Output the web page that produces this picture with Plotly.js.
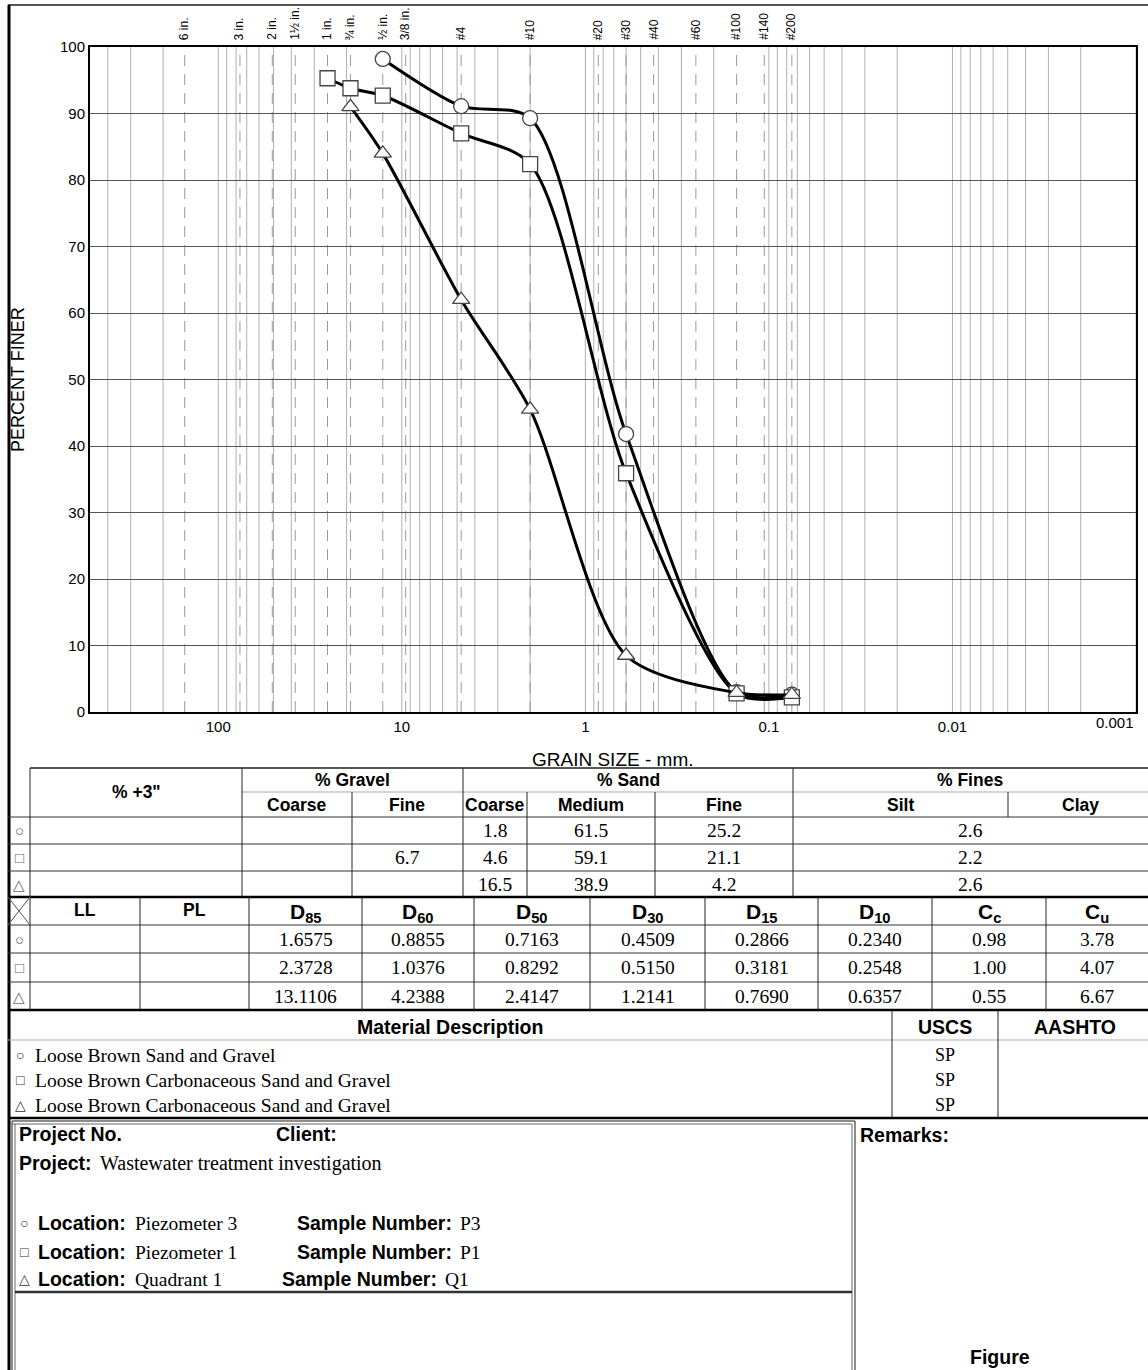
<!DOCTYPE html>
<html><head><meta charset="utf-8">
<script src="https://cdn.plot.ly/plotly-3.0.1.min.js"></script>
<style>html,body{margin:0;padding:0;background:#fff;} #chart{width:1148px;height:1370px;}</style>
</head><body><div id="chart"></div>
<script>
// ---------- DATA ----------
const sieveSizes = [152.4, 76.2, 50.8, 38.1, 25.4, 19.05, 12.7, 9.525, 4.75, 2.0, 0.85, 0.6, 0.425, 0.25, 0.15, 0.106, 0.075];
const sieveLabels = ['6 in.','3 in.','2 in.','1½ in.','1 in.','¾ in.','½ in.','3/8 in.','#4','#10','#20','#30','#40','#60','#100','#140','#200'];

const p3Size = [12.7, 4.75, 2.0, 0.6, 0.15, 0.075];
const p3Finer = [98.2, 91.1, 89.3, 41.8, 3.0, 2.6];
const p1Size = [25.4, 19.05, 12.7, 4.75, 2.0, 0.6, 0.15, 0.075];
const p1Finer = [95.3, 93.8, 92.7, 87.0, 82.4, 35.9, 2.8, 2.2];
const q1Size = [19.05, 12.7, 4.75, 2.0, 0.6, 0.15, 0.075];
const q1Finer = [91.0, 84.0, 62.0, 45.5, 8.5, 2.9, 2.6];

const xTickVals = [100, 10, 1, 0.1, 0.01];
const xTickText = ['100', '10', '1', '0.1', '0.01'];
const yTickVals = [0,10,20,30,40,50,60,70,80,90,100];

const sampleSymbols = ['○','□','△'];
const plus3in = ['','',''];
const gravelCoarse = ['','',''];
const gravelFine = ['','6.7',''];
const sandCoarse = ['1.8','4.6','16.5'];
const sandMedium = ['61.5','59.1','38.9'];
const sandFine = ['25.2','21.1','4.2'];
const finesVals = ['2.6','2.2','2.6'];
const LL = ['','',''];
const PL = ['','',''];
const D85 = ['1.6575','2.3728','13.1106'];
const D60 = ['0.8855','1.0376','4.2388'];
const D50 = ['0.7163','0.8292','2.4147'];
const D30 = ['0.4509','0.5150','1.2141'];
const D15 = ['0.2866','0.3181','0.7690'];
const D10 = ['0.2340','0.2548','0.6357'];
const Cc = ['0.98','1.00','0.55'];
const Cu = ['3.78','4.07','6.67'];
const materialDesc = ['Loose Brown Sand and Gravel','Loose Brown Carbonaceous Sand and Gravel','Loose Brown Carbonaceous Sand and Gravel'];
const uscs = ['SP','SP','SP'];
const locations = ['Piezometer 3','Piezometer 1','Quadrant 1'];
const sampleNumbers = ['P3','P1','Q1'];

// ---------- GEOMETRY ----------
const L=90, R=1136, T=47, B=712;
const ARIAL='Liberation Sans, Arial, sans-serif';
const TIMES='Liberation Serif, Times New Roman, serif';
const fx = x => (x-L)/(R-L);
const fy = y => (B-y)/(B-T);
const LMAX=Math.log10(500), LMIN=-3;
const fxd = v => (LMAX-Math.log10(v))/(LMAX-LMIN);

const shapes=[], ann=[];
function ln(x0,y0,x1,y1,color,width,dash){
  shapes.push({type:'line',xref:'paper',yref:'paper',x0:fx(x0),x1:fx(x1),y0:fy(y0),y1:fy(y1),
    line:{color:color||'#222',width:width||1,dash:dash||'solid'},layer:'above'});
}
function txt(x,y,s,o){
  if(!s) return;
  o=o||{};
  ann.push({xref:'paper',yref:'paper',x:fx(x),y:fy(y),text:s,showarrow:false,
    xanchor:o.xa||'center',yanchor:o.ya||'middle',textangle:o.angle||0,borderpad:0,
    font:{family:o.f||ARIAL,size:o.s||16,color:o.c||'#000'}});
}

// vertical grid (log cycles)
for(let n=-3;n<=2;n++){
  for(let k=1;k<=9;k++){
    const v=k*Math.pow(10,n);
    if(v<0.001||v>=500) continue;
    shapes.push({type:'line',xref:'paper',yref:'paper',x0:fxd(v),x1:fxd(v),y0:0,y1:1,
      line:{color:'#b0b0b0',width:1},layer:'below'});
  }
}
// sieve dashed lines + labels
sieveSizes.forEach((s,i)=>{
  shapes.push({type:'line',xref:'paper',yref:'paper',x0:fxd(s),x1:fxd(s),y0:0,y1:1,
    line:{color:'#9a9a9a',width:1,dash:'11px,8px'},layer:'below'});
  ann.push({xref:'paper',yref:'paper',x:fxd(s),y:fy(42),text:sieveLabels[i],showarrow:false,
    xanchor:'center',yanchor:'bottom',textangle:-90,font:{family:ARIAL,size:12,color:'#000'}});
});

// axis extras
txt(1135,722,'0.001',{xa:'right',s:15});
txt(18,380,'PERCENT FINER',{angle:-90,s:18});
txt(613,759,'GRAIN SIZE - mm.',{s:19});

// outer frame
ln(8,5,1148,5,'#555',2);
ln(9,5,9,1370,'#000',3);

const HS=17.5, TS=19.5, BS=19.5;
// ---------- TABLE 1 ----------
ln(30,768,1148,768,'#222',1.5);
ln(242,792,1148,792,'#aaa',1);
[817,844,871].forEach(y=>ln(8,y,1148,y,'#333',1));
ln(8,897,1148,897,'#000',2.5);
ln(30,768,30,897); ln(242,768,242,897); ln(352,792,352,897); ln(463,768,463,897);
ln(527,792,527,897); ln(655,792,655,897); ln(793,768,793,897); ln(1008,792,1008,817);
txt(136,792,'<b>% +3"</b>',{s:HS});
txt(352,780,'<b>% Gravel</b>',{s:HS}); txt(297,805,'<b>Coarse</b>',{s:HS}); txt(407,805,'<b>Fine</b>',{s:HS});
txt(628,780,'<b>% Sand</b>',{s:HS}); txt(495,805,'<b>Coarse</b>',{s:HS}); txt(591,805,'<b>Medium</b>',{s:HS}); txt(724,805,'<b>Fine</b>',{s:HS});
txt(970,780,'<b>% Fines</b>',{s:HS}); txt(900,805,'<b>Silt</b>',{s:HS}); txt(1080,805,'<b>Clay</b>',{s:HS});
const r1=[830,857,884];
r1.forEach((y,i)=>{
  txt(19,y,sampleSymbols[i],{s:15,c:'#666'});
  txt(136,y,plus3in[i],{f:TIMES,s:TS});
  txt(297,y,gravelCoarse[i],{f:TIMES,s:TS});
  txt(407,y,gravelFine[i],{f:TIMES,s:TS});
  txt(495,y,sandCoarse[i],{f:TIMES,s:TS});
  txt(591,y,sandMedium[i],{f:TIMES,s:TS});
  txt(724,y,sandFine[i],{f:TIMES,s:TS});
  txt(970,y,finesVals[i],{f:TIMES,s:TS});
});

// ---------- TABLE 2 ----------
[925,953,982].forEach(y=>ln(8,y,1148,y,'#333',1));
ln(8,1010,1148,1010,'#000',2.5);
const c2=[30,140,249,362,474,590,705,818,932,1046,1148];
c2.slice(0,10).forEach(x=>ln(x,897,x,1010));
ln(8,897,30,925,'#555',1); ln(8,925,30,897,'#555',1);
const hdr2=['<b>LL</b>','<b>PL</b>','<b>D<sub>85</sub></b>','<b>D<sub>60</sub></b>','<b>D<sub>50</sub></b>','<b>D<sub>30</sub></b>','<b>D<sub>15</sub></b>','<b>D<sub>10</sub></b>','<b>C<sub>c</sub></b>','<b>C<sub>u</sub></b>'];
const cols2=[LL,PL,D85,D60,D50,D30,D15,D10,Cc,Cu];
hdr2.forEach((h,j)=>txt((c2[j]+c2[j+1])/2,j<2?910:913,h,{s:j<2?HS:21}));
const r2=[939,967,996];
r2.forEach((y,i)=>{
  txt(19,y,sampleSymbols[i],{s:15,c:'#666'});
  cols2.forEach((col,j)=>txt((c2[j]+c2[j+1])/2,y,col[i],{f:TIMES,s:TS}));
});

// ---------- MATERIAL DESCRIPTION ----------
ln(8,1040,1148,1040,'#aaa',1);
ln(892,1010,892,1118); ln(998,1010,998,1118);
ln(8,1118,1148,1118,'#000',2.5);
txt(450,1027,'<b>Material Description</b>',{s:BS});
txt(945,1027,'<b>USCS</b>',{s:BS});
txt(1075,1027,'<b>AASHTO</b>',{s:BS});
const r3=[1055,1080,1105];
r3.forEach((y,i)=>{
  txt(20,y,sampleSymbols[i],{s:14,c:'#333'});
  txt(34,y,materialDesc[i],{xa:'left',f:TIMES,s:TS});
  txt(945,y,uscs[i],{f:TIMES,s:18});
});

// ---------- PROJECT BOX ----------
ln(12,1121,855,1121,'#666',1.5); ln(12,1124,852,1124,'#666',1);
ln(12,1121,12,1370,'#666',1.5); ln(15,1124,15,1370,'#666',1);
ln(855,1121,855,1370,'#666',1.5); ln(852,1124,852,1370,'#666',1);
ln(15,1292,852,1292,'#333',2.5);
txt(18,1134,'<b>Project No.</b>',{xa:'left',s:BS});
txt(275,1134,'<b>Client:</b>',{xa:'left',s:BS});
txt(18,1163,'<b>Project:</b>',{xa:'left',s:BS});
txt(99,1163,'Wastewater treatment investigation',{xa:'left',f:TIMES,s:TS+0.5});
const r4=[1223,1252,1279];
const snX=[296,296,281];
r4.forEach((y,i)=>{
  txt(24,y,sampleSymbols[i],{s:14,c:'#333'});
  txt(37,y,'<b>Location:</b>',{xa:'left',s:BS});
  txt(134,y,locations[i],{xa:'left',f:TIMES,s:TS});
  txt(snX[i],y,'<b>Sample Number:</b>',{xa:'left',s:BS});
  txt(snX[i]+163,y,sampleNumbers[i],{xa:'left',f:TIMES,s:TS});
});
txt(859,1135,'<b>Remarks:</b>',{xa:'left',s:BS});
txt(1000,1357,'<b>Figure</b>',{s:BS});

// ---------- TRACES ----------
function curve(xs,ys,sym){
  return {x:xs,y:ys,type:'scatter',mode:'lines+markers',cliponaxis:false,
    line:{color:'#000',width:3,shape:'spline',smoothing:0.8},
    marker:{symbol:sym,size:15,color:'#fff',line:{color:'#444',width:1.3}},showlegend:false};
}
const data=[curve(p3Size,p3Finer,'circle'),curve(p1Size,p1Finer,'square'),curve(q1Size,q1Finer,'triangle-up')];

const layout={
  width:1148,height:1370,margin:{l:L,r:1148-R,t:T,b:1370-B},
  paper_bgcolor:'#fff',plot_bgcolor:'#fff',showlegend:false,
  font:{family:ARIAL,color:'#000'},
  xaxis:{type:'log',range:[LMAX,LMIN],showgrid:false,zeroline:false,showline:true,linecolor:'#000',linewidth:2,mirror:true,
    tickvals:xTickVals,ticktext:xTickText,ticks:'',tickfont:{family:ARIAL,size:15,color:'#000'}},
  yaxis:{range:[0,100],tickvals:yTickVals,showgrid:true,gridcolor:'#555',gridwidth:1,zeroline:false,showline:true,linecolor:'#000',linewidth:2,mirror:true,
    ticks:'',tickfont:{family:ARIAL,size:15,color:'#000'}},
  shapes:shapes,annotations:ann
};
Plotly.newPlot('chart',data,layout,{staticPlot:true,displayModeBar:false});
</script></body></html>
